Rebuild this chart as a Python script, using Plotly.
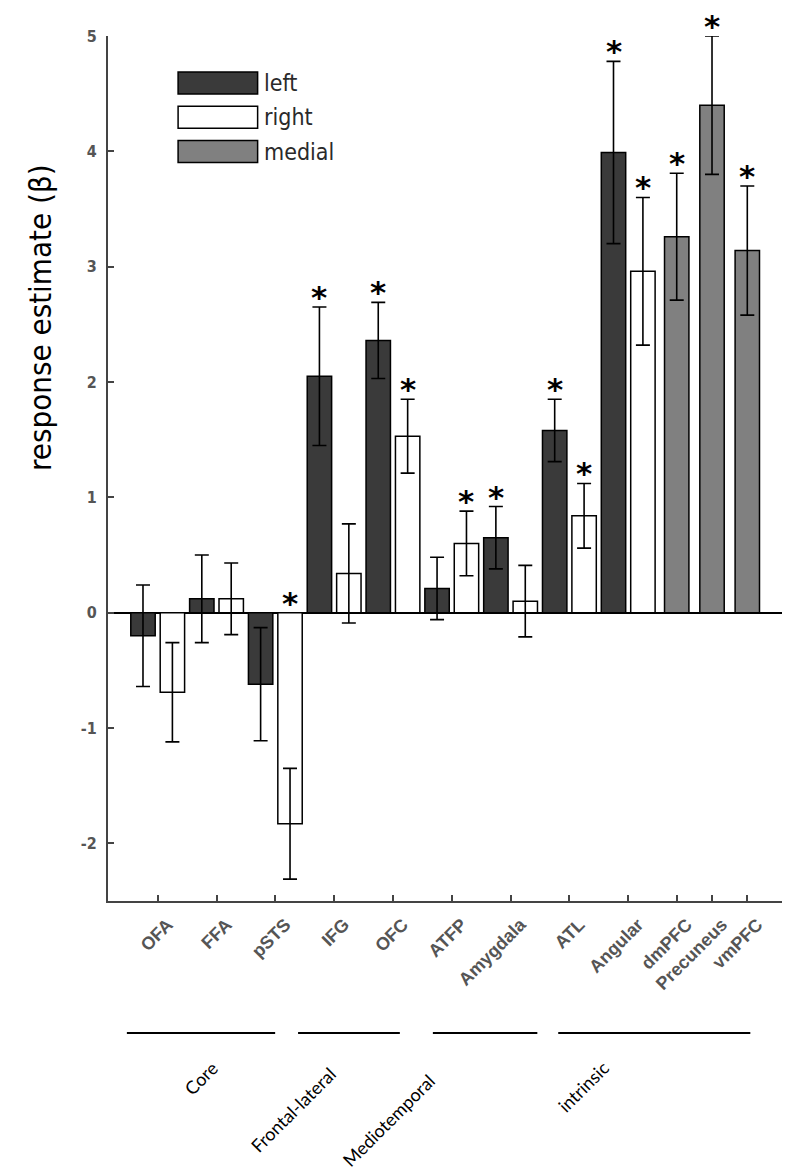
import plotly.graph_objects as go

# ---------------- data ----------------
regions = ["OFA", "FFA", "pSTS", "IFG", "OFC", "ATFP", "Amygdala", "ATL",
           "Angular", "dmPFC", "Precuneus", "vmPFC"]
paired_regions = ["OFA", "FFA", "pSTS", "IFG", "OFC", "ATFP", "Amygdala", "ATL", "Angular"]
medial_regions = ["dmPFC", "Precuneus", "vmPFC"]

left_vals = [-0.20, 0.12, -0.62, 2.05, 2.36, 0.21, 0.65, 1.58, 3.99]
left_errs = [0.44, 0.38, 0.49, 0.60, 0.33, 0.27, 0.27, 0.27, 0.79]
left_sig = [False, False, False, True, True, False, True, True, True]

right_vals = [-0.69, 0.12, -1.83, 0.34, 1.53, 0.60, 0.10, 0.84, 2.96]
right_errs = [0.43, 0.31, 0.48, 0.43, 0.32, 0.28, 0.31, 0.28, 0.64]
right_sig = [False, False, True, False, True, True, False, True, True]

medial_vals = [3.26, 4.40, 3.14]
medial_errs = [0.55, 0.60, 0.56]
medial_sig = [True, True, True]

groups = ["Core", "Frontal-lateral", "Mediotemporal", "intrinsic"]
series_names = ["left", "right", "medial"]
y_ticks = [-2, -1, 0, 1, 2, 3, 4, 5]
y_tick_text = ["-2", "-1", "0", "1", "2", "3", "4", "5"]

# ---------------- layout constants ----------------
BAR_W = 0.83
MEDIAL_START = 18.15
MEDIAL_STEP = 1.2
colors = {"left": "#3a3a3a", "right": "#ffffff", "medial": "#808080"}
NARROW = "Liberation Sans Narrow, DejaVu Sans Condensed, Liberation Sans"

left_x = [2 * i for i in range(len(paired_regions))]
right_x = [2 * i + 1 for i in range(len(paired_regions))]
medial_x = [MEDIAL_START + MEDIAL_STEP * j for j in range(len(medial_regions))]
tick_x = [2 * i + 0.5 for i in range(len(paired_regions))] + medial_x

fig = go.Figure()
for name, xs, vals, errs in [("left", left_x, left_vals, left_errs),
                             ("right", right_x, right_vals, right_errs),
                             ("medial", medial_x, medial_vals, medial_errs)]:
    fig.add_trace(go.Bar(
        x=xs, y=vals, width=BAR_W, name=name,
        marker=dict(color=colors[name], line=dict(color="black", width=1.5)),
        error_y=dict(type="data", array=errs, color="black", thickness=1.6, width=7),
    ))

annotations = []
# significance asterisks
for xs, vals, errs, sig in [(left_x, left_vals, left_errs, left_sig),
                            (right_x, right_vals, right_errs, right_sig),
                            (medial_x, medial_vals, medial_errs, medial_sig)]:
    for x, v, e, s in zip(xs, vals, errs, sig):
        if s:
            annotations.append(dict(
                x=x, y=max(v + e, 0), xref="x", yref="y", text="*",
                showarrow=False, xanchor="center", yanchor="bottom", yshift=-10,
                font=dict(family="DejaVu Sans", size=31, color="black", weight="bold"),
            ))

# y title
annotations.append(dict(
    x=(40 - 108) / 674, y=(901 - 318) / 865, xref="paper", yref="paper",
    text="response estimate (β)",
    showarrow=False, textangle=-90, xanchor="center", yanchor="middle",
    font=dict(family=NARROW, size=31, color="black"),
))

# legend (custom boxes)
shapes = []
LEG_X0, LEG_X1 = 0.104, 0.222
LEG_TOP, LEG_H, LEG_STEP = 0.9584, 0.0255, 0.0396
for k, name in enumerate(series_names):
    y1 = LEG_TOP - k * LEG_STEP
    y0 = y1 - LEG_H
    shapes.append(dict(type="rect", xref="paper", yref="paper",
                       x0=LEG_X0, x1=LEG_X1, y0=y0, y1=y1,
                       fillcolor=colors[name], line=dict(color="black", width=1.5)))
    annotations.append(dict(x=LEG_X1 + 0.006, y=(y0 + y1) / 2, xref="paper", yref="paper",
                            text=name, showarrow=False, xanchor="left", yanchor="middle",
                            font=dict(family=NARROW, size=23, color="#2a2a2a")))

# group lines and labels
group_lines = [(0.028, 0.248), (0.282, 0.433), (0.482, 0.637), (0.668, 0.953)]
group_label_pos = [(0.138, -0.2046), (0.2745, -0.2416), (0.4169, -0.2532), (0.7062, -0.2139)]
LINE_Y = -0.1526
for (x0, x1), (lx, ly), g in zip(group_lines, group_label_pos, groups):
    shapes.append(dict(type="line", xref="paper", yref="paper", x0=x0, x1=x1,
                       y0=LINE_Y, y1=LINE_Y, line=dict(color="black", width=2.2)))
    annotations.append(dict(x=lx, y=ly, xref="paper", yref="paper", text=g,
                            showarrow=False, textangle=-45, xanchor="center", yanchor="middle",
                            font=dict(family="Lato", size=18, color="black")))

fig.update_layout(
    width=792, height=1163,
    margin=dict(l=100, r=18, t=28, b=270),
    plot_bgcolor="white", paper_bgcolor="white",
    barmode="overlay", showlegend=False,
    annotations=annotations, shapes=shapes,
    xaxis=dict(range=[-1.19, 21.73], tickvals=tick_x, ticktext=regions, tickangle=-45,
               ticks="inside", ticklen=6, tickwidth=1.5, tickcolor="#444",
               showline=True, linecolor="#444", linewidth=2,
               showgrid=False, zeroline=False, ticklabelstandoff=4, ticklabelshift=10,
               tickfont=dict(family="Liberation Sans", size=18, color="#555", weight="bold")),
    yaxis=dict(range=[-2.5, 5], tickvals=y_ticks, ticktext=y_tick_text,
               ticks="inside", ticklen=6, tickwidth=1.5, tickcolor="#444",
               showline=True, linecolor="#444", linewidth=2,
               showgrid=False, zeroline=True, zerolinecolor="black", zerolinewidth=1.5,
               ticklabelstandoff=6,
               tickfont=dict(family=NARROW, size=16, color="#555", weight="bold")),
)

fig.write_html("out.html")
